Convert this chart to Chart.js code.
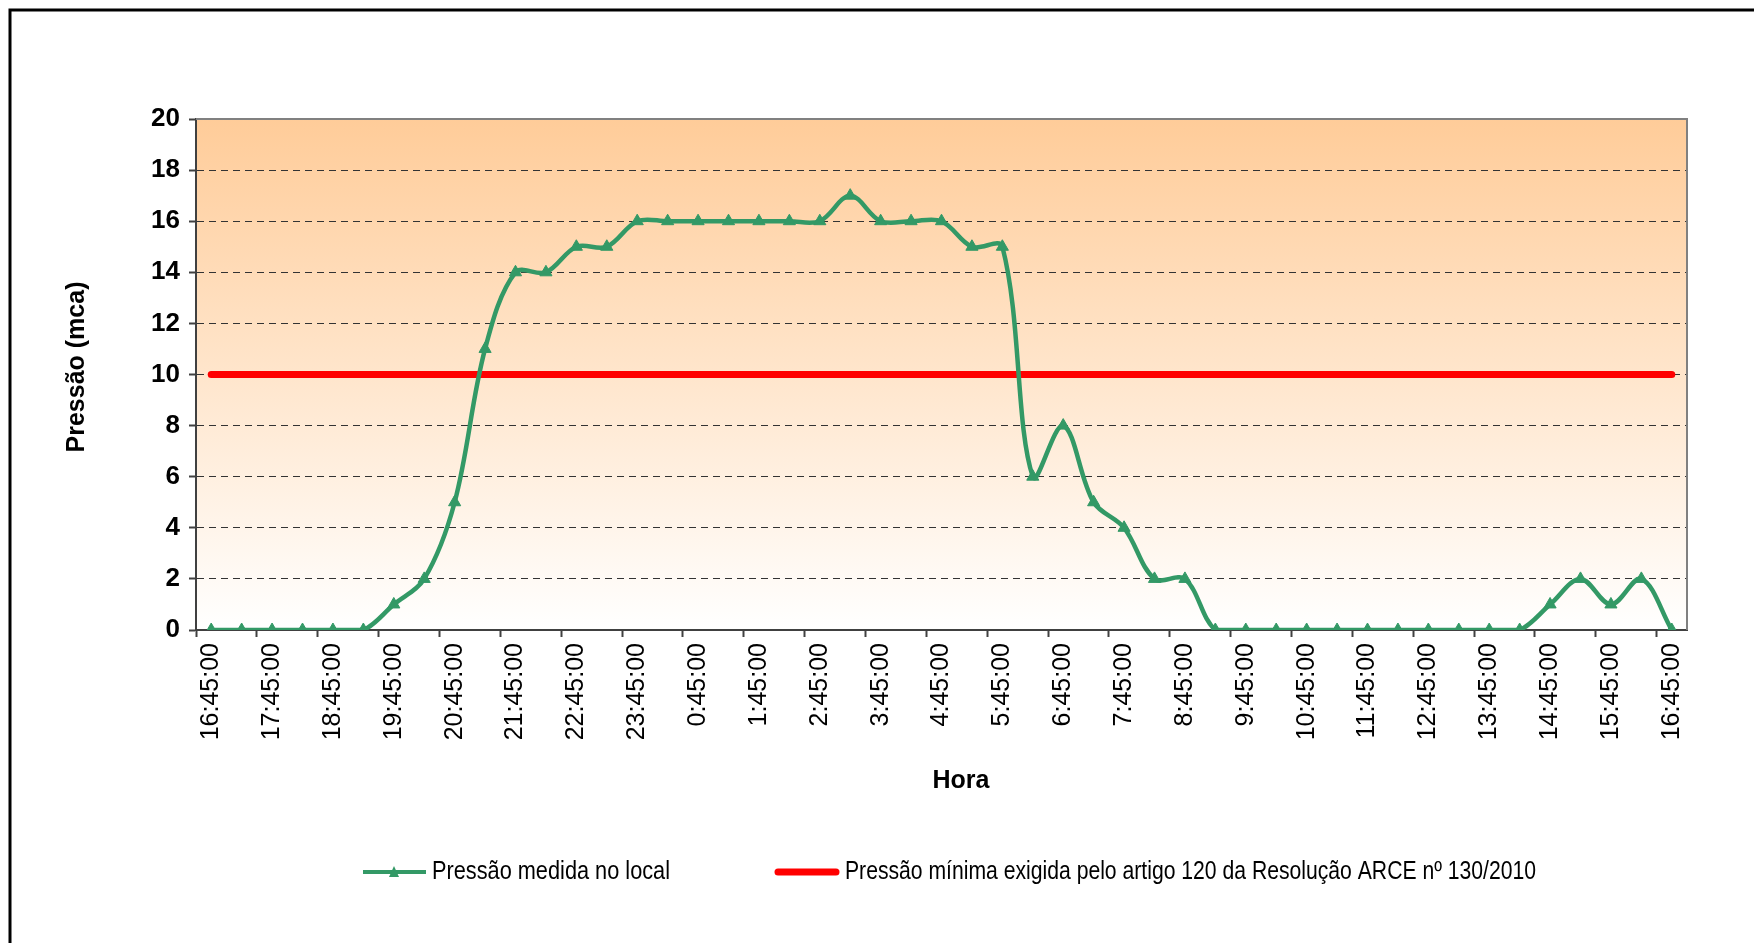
<!DOCTYPE html>
<html lang="pt">
<head>
<meta charset="utf-8">
<title>Pressão medida no local</title>
<script src="https://cdn.jsdelivr.net/npm/chart.js@4/dist/chart.umd.min.js"></script>
<style>
    html, body { margin: 0; padding: 0; background: #ffffff; }
    canvas { display: block; }
</style>
</head>
<body>
<canvas id="pressureChart" width="1754" height="943"></canvas>
<script>

/*
============================================================
Data
============================================================
*/

const timeLabels = [
    "16:45:00", "17:15:00", "17:45:00", "18:15:00", "18:45:00", "19:15:00",
    "19:45:00", "20:15:00", "20:45:00", "21:15:00", "21:45:00", "22:15:00",
    "22:45:00", "23:15:00", "23:45:00", "0:15:00", "0:45:00", "1:15:00",
    "1:45:00", "2:15:00", "2:45:00", "3:15:00", "3:45:00", "4:15:00",
    "4:45:00", "5:15:00", "5:45:00", "6:15:00", "6:45:00", "7:15:00",
    "7:45:00", "8:15:00", "8:45:00", "9:15:00", "9:45:00", "10:15:00",
    "10:45:00", "11:15:00", "11:45:00", "12:15:00", "12:45:00", "13:15:00",
    "13:45:00", "14:15:00", "14:45:00", "15:15:00", "15:45:00", "16:15:00",
    "16:45:00"
];

const measuredPressure = [
    0, 0, 0, 0, 0, 0,
    1, 2, 5, 11, 14, 14,
    15, 15, 16, 16, 16, 16,
    16, 16, 16, 17, 16, 16,
    16, 15, 15, 6, 8, 5,
    4, 2, 2, 0, 0, 0,
    0, 0, 0, 0, 0, 0,
    0, 0, 1, 2, 1, 2,
    0
];

const minimumPressure = [
    10, 10, 10, 10, 10, 10,
    10, 10, 10, 10, 10, 10,
    10, 10, 10, 10, 10, 10,
    10, 10, 10, 10, 10, 10,
    10, 10, 10, 10, 10, 10,
    10, 10, 10, 10, 10, 10,
    10, 10, 10, 10, 10, 10,
    10, 10, 10, 10, 10, 10,
    10
];

const seriesNames = [
    "Pressão medida no local",
    "Pressão mínima exigida pelo artigo 120 da Resolução ARCE nº 130/2010"
];

const yTitle = "Pressão (mca)";

const xTitle = "Hora";

/*
============================================================
Style
============================================================
*/

const FONT = "'Liberation Sans', Arial, sans-serif";

const GREEN = "#339966";

const RED = "#ff0000";

const AXIS = "#404040";

Chart.defaults.font.family = FONT;

/*
============================================================
Background + frame
============================================================
*/

const chartBackground = {

    id: "chartBackground",

    beforeDraw(chart) {

        const { ctx, chartArea: area } = chart;

        ctx.save();

        // outer frame (only left and top are visible)
        ctx.strokeStyle = "#000000";
        ctx.lineWidth = 3;
        ctx.beginPath();
        ctx.moveTo(10, chart.height);
        ctx.lineTo(10, 10);
        ctx.lineTo(chart.width, 10);
        ctx.stroke();

        // plot area gradient
        const gradient = ctx.createLinearGradient(0, area.top, 0, area.bottom);
        gradient.addColorStop(0, "#ffcc99");
        gradient.addColorStop(1, "#ffffff");
        ctx.fillStyle = gradient;
        ctx.fillRect(area.left, area.top, area.right - area.left, area.bottom - area.top);

        ctx.restore();

    },

    afterDraw(chart) {

        const { ctx, chartArea: area } = chart;

        ctx.save();
        ctx.strokeStyle = "#808080";
        ctx.lineWidth = 2;
        ctx.beginPath();
        ctx.moveTo(area.left, area.top);
        ctx.lineTo(area.right, area.top);
        ctx.lineTo(area.right, area.bottom);
        ctx.stroke();
        ctx.restore();

    }

};

/*
============================================================
Axis titles (squeezed like the original)
============================================================
*/

const axisTitles = {

    id: "axisTitles",

    afterDraw(chart) {

        const { ctx } = chart;

        ctx.save();

        ctx.font = "bold 25px " + FONT;
        ctx.fillStyle = "#000000";
        ctx.textAlign = "center";
        ctx.textBaseline = "middle";

        ctx.fillText(xTitle, 961, 781, 58);

        ctx.translate(77, 367);
        ctx.rotate(-Math.PI / 2);
        ctx.fillText(yTitle, 0, 0, 171);

        ctx.restore();

    }

};

/*
============================================================
Legend (bottom, single row)
============================================================
*/

const bottomLegend = {

    id: "bottomLegend",

    afterDraw(chart) {

        const { ctx } = chart;

        const y = 872;

        ctx.save();

        ctx.font = "25px " + FONT;
        ctx.textBaseline = "middle";
        ctx.textAlign = "left";

        // measured pressure: line with triangle
        ctx.strokeStyle = GREEN;
        ctx.lineWidth = 4;
        ctx.beginPath();
        ctx.moveTo(363, y);
        ctx.lineTo(426, y);
        ctx.stroke();

        ctx.fillStyle = GREEN;
        ctx.beginPath();
        ctx.moveTo(394, y - 6);
        ctx.lineTo(399, y + 5);
        ctx.lineTo(389, y + 5);
        ctx.closePath();
        ctx.fill();

        ctx.fillStyle = "#000000";
        ctx.fillText(seriesNames[0], 432, y, 238);

        // minimum pressure: thick red line
        ctx.strokeStyle = RED;
        ctx.lineWidth = 7;
        ctx.lineCap = "round";
        ctx.beginPath();
        ctx.moveTo(778, y);
        ctx.lineTo(836, y);
        ctx.stroke();

        ctx.fillText(seriesNames[1], 845, y, 691);

        ctx.restore();

    }

};

/*
============================================================
Chart
============================================================
*/

const context = document.getElementById("pressureChart").getContext("2d");

new Chart(context, {

    type: "line",

    data: {

        labels: timeLabels,

        datasets: [

            {
                label: seriesNames[0],
                data: measuredPressure,
                borderColor: GREEN,
                backgroundColor: GREEN,
                borderWidth: 4.5,
                tension: 0.35,
                pointStyle: "triangle",
                pointRadius: 7,
                pointBackgroundColor: GREEN,
                pointBorderColor: GREEN,
                pointBorderWidth: 1
            },

            {
                label: seriesNames[1],
                data: minimumPressure,
                borderColor: RED,
                borderWidth: 7,
                borderCapStyle: "round",
                pointRadius: 0,
                tension: 0
            }

        ]

    },

    options: {

        responsive: false,

        animation: false,

        layout: {
            padding: { left: 0, right: 67, top: 119, bottom: 143 }
        },

        plugins: {
            legend: { display: false },
            tooltip: { enabled: false }
        },

        scales: {

            x: {
                offset: true,
                grid: {
                    offset: true,
                    drawOnChartArea: false,
                    drawTicks: true,
                    tickLength: 7,
                    tickWidth: 2,
                    tickColor: (c) => (c.index % 2 === 0 ? AXIS : "rgba(0,0,0,0)")
                },
                border: { display: true, color: AXIS, width: 2 },
                ticks: {
                    autoSkip: false,
                    minRotation: 90,
                    maxRotation: 90,
                    padding: 6,
                    color: "#000000",
                    font: { size: 25 },
                    callback: function (value, index) {
                        return index % 2 === 0 ? this.getLabelForValue(value) : "";
                    }
                },
                title: { display: false },
                afterFit(scale) {
                    scale.height = 170;
                }
            },

            y: {
                min: 0,
                max: 20,
                ticks: {
                    stepSize: 2,
                    padding: 9,
                    color: "#000000",
                    font: { size: 26, weight: "bold" }
                },
                grid: {
                    lineWidth: 1,
                    color: (c) => (c.tick && (c.tick.value === 0 || c.tick.value === 20)) ? "rgba(0,0,0,0)" : "#333333",
                    tickColor: AXIS,
                    tickLength: 7,
                    tickWidth: 2
                },
                border: { display: true, color: AXIS, width: 2, dash: [7, 5] },
                title: { display: false },
                afterFit(scale) {
                    scale.width = 196;
                }
            }

        }

    },

    plugins: [chartBackground, axisTitles, bottomLegend]

});

</script>
</body>
</html>
